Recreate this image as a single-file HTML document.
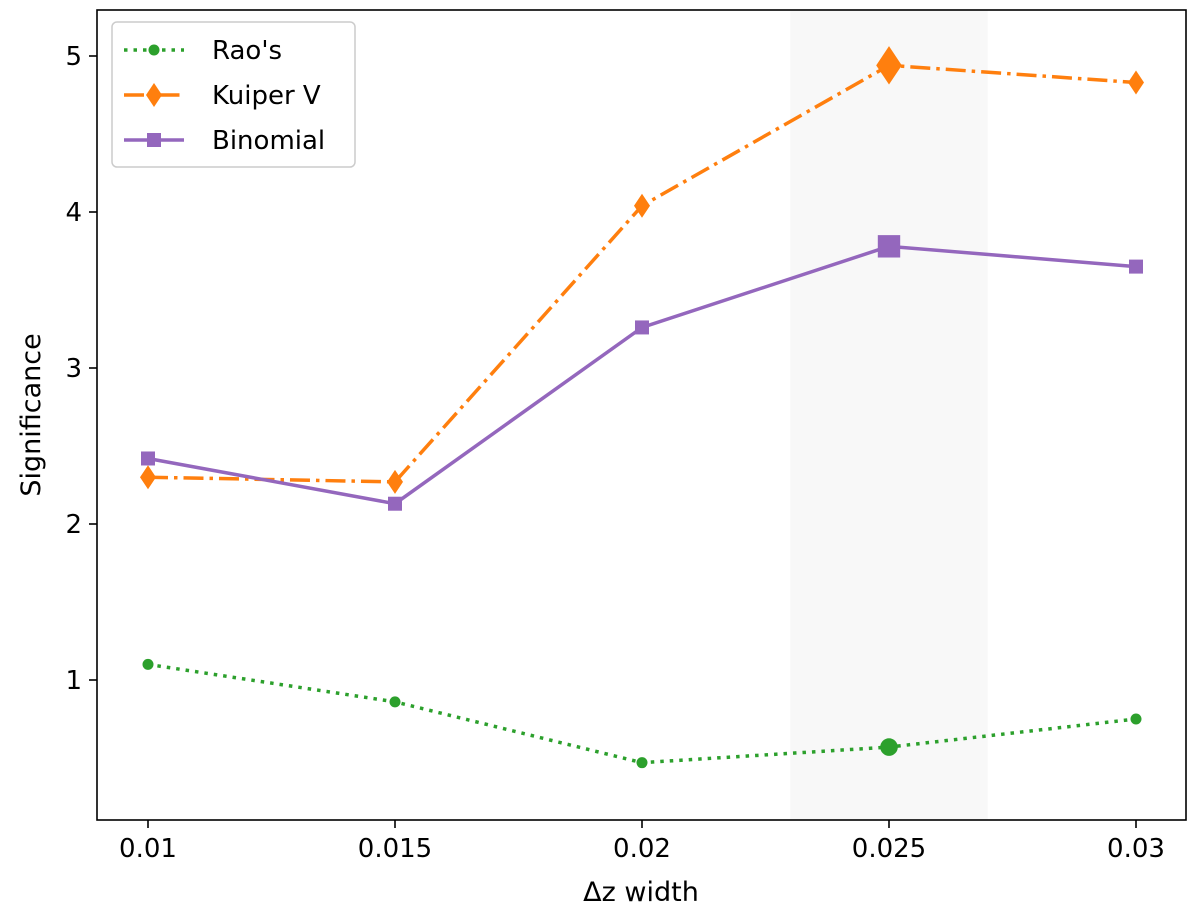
<!DOCTYPE html>
<html><head><meta charset="utf-8"><style>
html,body{margin:0;padding:0;background:#fff;}
svg{display:block;font-family:"DejaVu Sans","Liberation Sans",sans-serif;}
</style></head><body>
<svg id="chart" width="1200" height="909" viewBox="0 0 1200 909" xmlns="http://www.w3.org/2000/svg"></svg>
<script>
const categories = [0.01, 0.015, 0.02, 0.025, 0.03];
const xTickLabels = ["0.01", "0.015", "0.02", "0.025", "0.03"];
const yTicks = [1, 2, 3, 4, 5];
const raoValues = [1.10, 0.86, 0.47, 0.57, 0.75];
const kuiperValues = [2.30, 2.27, 4.04, 4.94, 4.83];
const binomialValues = [2.42, 2.13, 3.26, 3.78, 3.65];
const highlightIndex = 3;
const bandRange = [0.023, 0.027];

const NS = "http://www.w3.org/2000/svg";
const svg = document.getElementById('chart');
const L = 97, R = 1186, T = 10, B = 820;
const xs = v => 148 + (v - 0.01) / 0.005 * 247;
const ys = v => 836 - v * 156;
function mk(tag, attrs, parent) {
  const e = document.createElementNS(NS, tag);
  for (const k in attrs) e.setAttribute(k, attrs[k]);
  (parent || svg).appendChild(e);
  return e;
}
let band = mk('rect', {x: xs(bandRange[0]), y: T, width: xs(bandRange[1]) - xs(bandRange[0]), height: B - T, fill: '#f8f8f8'});



function series(vals, color, dash, marker, name) {
  const g = mk('g', {});
  
  
  mk('polyline', {points: vals.map((v, i) => xs(categories[i]) + ',' + ys(v)).join(' '), fill: 'none', stroke: color, 'stroke-width': 3.5, 'stroke-dasharray': dash}, g);
  vals.forEach((v, i) => {
    const s = i === highlightIndex ? 1.6 : 1;
    const cx = xs(categories[i]), cy = ys(v);
    let m;
    if (marker === 'circle') m = mk('circle', {cx, cy, r: 5.5 * s, fill: color}, g);
    else if (marker === 'diamond') m = mk('polygon', {points: `${cx},${cy - 12 * s} ${cx + 8 * s},${cy} ${cx},${cy + 12 * s} ${cx - 8 * s},${cy}`, fill: color}, g);
    else m = mk('rect', {x: cx - 7 * s, y: cy - 7 * s, width: 14 * s, height: 14 * s, fill: color}, g);
    
    
  });
}
series(raoValues, '#2ca02c', '3.5 6', 'circle', 'rao');
series(kuiperValues, '#ff7f0e', '20 6 3.5 6', 'diamond', 'kuiper');
series(binomialValues, '#9467bd', '', 'square', 'binomial');

let fr = mk('rect', {x: L, y: T, width: R - L, height: B - T, fill: 'none', stroke: '#000', 'stroke-width': 1.6});


categories.forEach((c, i) => {
  mk('line', {x1: xs(c), x2: xs(c), y1: B, y2: B + 8, stroke: '#000', 'stroke-width': 1.6});
  const t = mk('text', {x: xs(c), y: B + 37, 'text-anchor': 'middle', 'font-size': 26});
  t.textContent = xTickLabels[i];
  
  
});
yTicks.forEach(v => {
  mk('line', {x1: L - 8, x2: L, y1: ys(v), y2: ys(v), stroke: '#000', 'stroke-width': 1.6});
  const t = mk('text', {x: L - 15, y: ys(v) + 9, 'text-anchor': 'end', 'font-size': 26});
  t.textContent = v;
  
  
});
let xt = mk('text', {x: 641, y: 901, 'text-anchor': 'middle', 'font-size': 27});
xt.textContent = 'Δz width';


let yt = mk('text', {x: 0, y: 0, 'text-anchor': 'middle', 'font-size': 27, transform: 'translate(40,415) rotate(-90)'});
yt.textContent = 'Significance';



const lg = mk('g', {});


mk('rect', {x: 112, y: 22, width: 243, height: 145, rx: 5, fill: '#fff', stroke: '#ccc', 'stroke-width': 1.5}, lg);
const entries = [['Rao\'s', '#2ca02c', '3.5 6', 'circle'], ['Kuiper V', '#ff7f0e', '20 6 3.5 6', 'diamond'], ['Binomial', '#9467bd', '', 'square']];
entries.forEach((e, i) => {
  const y = 50 + i * 45;
  const eg = mk('g', {}, lg);
  
  
  mk('line', {x1: 124, x2: 184, y1: y, y2: y, stroke: e[1], 'stroke-width': 3.5, 'stroke-dasharray': e[2]}, eg);
  if (e[3] === 'circle') mk('circle', {cx: 154, cy: y, r: 5.5, fill: e[1]}, eg);
  else if (e[3] === 'diamond') mk('polygon', {points: `154,${y - 12} 162,${y} 154,${y + 12} 146,${y}`, fill: e[1]}, eg);
  else mk('rect', {x: 147, y: y - 7, width: 14, height: 14, fill: e[1]}, eg);
  const t = mk('text', {x: 212, y: y + 9, 'font-size': 26}, eg);
  t.textContent = e[0];
});
</script>
</body></html>
